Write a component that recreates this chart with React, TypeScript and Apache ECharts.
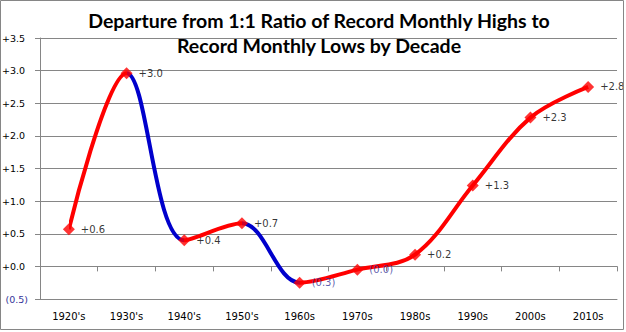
import React, { useEffect, useRef } from "react";
import * as echarts from "echarts";

const categories = ["1920's", "1930's", "1940's", "1950's", "1960s", "1970s", "1980s", "1990s", "2000s", "2010s"];
const values = [0.57, 2.96, 0.40, 0.66, -0.25, -0.05, 0.18, 1.24, 2.28, 2.75];
const pointLabels = ["+0.6", "+3.0", "+0.4", "+0.7", "(0.3)", "(0.0)", "+0.2", "+1.3", "+2.3", "+2.8"];
const yTicks = { min: -0.5, max: 3.5, interval: 0.5 };
const titleText = "Departure from 1:1 Ratio of Record Monthly Highs to\nRecord Monthly Lows by Decade";

const RED = "#FF0000";
const BLUE = "#0000CC";
const NEG = "#333399";
const GRAY = "#868686";
const FONT = "DejaVu Sans";

export default function App() {
  const ref = useRef<HTMLDivElement>(null);
  useEffect(() => {
    if (!ref.current) return;
    const chart = echarts.init(ref.current, undefined, { renderer: "svg" });

    // segment colours: blue where the value falls, red where it rises
    const pieces: any[] = [];
    for (let i = 0; i < values.length - 1; i++) {
      const down = values[i + 1] < values[i];
      const p: any = { gte: i, lt: i + 1, color: down ? BLUE : RED };
      if (i === values.length - 2) delete p.lt;
      pieces.push(p);
    }

    chart.setOption({
      animation: false,
      backgroundColor: "#ffffff",
      title: {
        text: titleText,
        left: 319,
        top: 8,
        textAlign: "center",
        padding: 0,
        textStyle: {
          fontFamily: "Lato",
          fontWeight: "bold",
          fontSize: 19.5,
          lineHeight: 25,
          color: "#000000",
        },
      },
      grid: { left: 40, right: 9, top: 38, bottom: 33, containLabel: false, outerBoundsMode: "none" },
      visualMap: {
        show: false,
        type: "piecewise",
        dimension: 0,
        seriesIndex: 0,
        pieces,
      },
      xAxis: [
        {
          type: "category",
          data: categories,
          position: "bottom",
          boundaryGap: true,
          axisLine: { show: true, onZero: false, lineStyle: { color: GRAY, width: 1 } },
          axisTick: { show: false },
          axisLabel: { margin: 12, fontFamily: FONT, fontSize: 10, color: "#000000" },
          splitLine: { show: false },
        },
        {
          type: "category",
          data: categories,
          position: "top",
          boundaryGap: true,
          axisLine: { show: true, onZero: true, lineStyle: { color: GRAY, width: 1 } },
          axisTick: { show: true, inside: true, length: 5, lineStyle: { color: GRAY, width: 1 } },
          axisLabel: { show: false },
          splitLine: { show: false },
        },
      ],
      yAxis: {
        type: "value",
        min: yTicks.min,
        max: yTicks.max,
        interval: yTicks.interval,
        axisLine: { show: true, onZero: false, lineStyle: { color: GRAY, width: 1 } },
        axisTick: { show: true, length: 5, lineStyle: { color: GRAY } },
        splitLine: { show: true, showMinLine: true, showMaxLine: true, lineStyle: { color: GRAY, width: 1 } },
        axisLabel: {
          margin: 12,
          formatter: (v: number) =>
            v < 0 ? `{neg|(${Math.abs(v).toFixed(1)})}` : `{pos|+${v.toFixed(1)}}`,
          rich: {
            neg: { fontFamily: FONT, fontSize: 9.5, color: NEG },
            pos: { fontFamily: FONT, fontSize: 9.5, color: "#000000", padding: [0, 3, 0, 0] },
          },
        },
      },
      series: [
        {
          type: "line",
          data: values,
          smooth: 0.35,
          showSymbol: false,
          symbol: "none",
          lineStyle: { width: 4 },
          z: 2,
        },
        {
          type: "scatter",
          data: values.map((v) => ({
            value: v,
            label: { color: v < 0 ? NEG : "#000000" },
          })),
          symbol: "diamond",
          symbolSize: 12,
          itemStyle: { color: RED },
          z: 3,
          label: {
            show: true,
            position: "right",
            distance: 6,
            fontFamily: FONT,
            fontSize: 10,
            formatter: (p: any) => pointLabels[p.dataIndex],
          },
        },
      ],
      graphic: [
        {
          type: "rect",
          shape: { x: 0.5, y: 0.5, width: 623, height: 329 },
          style: { fill: "none", stroke: GRAY, lineWidth: 1 },
          silent: true,
          z: 10,
        },
      ],
    });
    return () => chart.dispose();
  }, []);
  return (
    <div
      ref={ref}
      style={{ position: "absolute", left: 0, top: 0, width: 626, height: 332 }}
    />
  );
}
